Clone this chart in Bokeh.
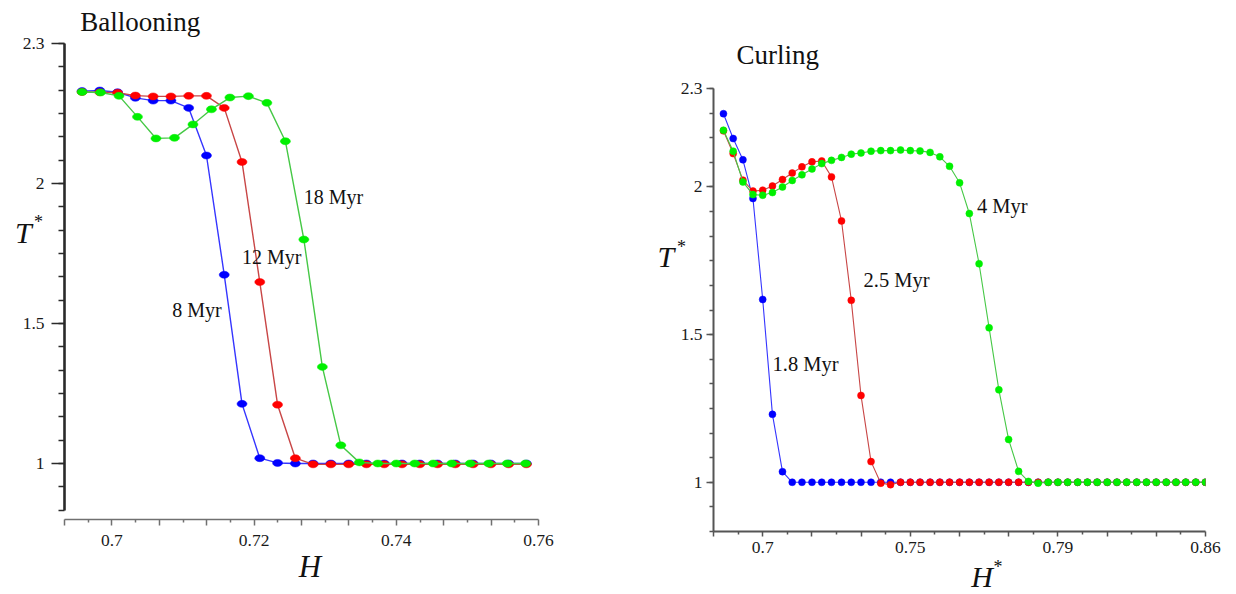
from bokeh.plotting import figure
from bokeh.layouts import row
from bokeh.models import Range1d, FixedTicker, CustomJSTickFormatter, Label
from bokeh.embed import file_html
from bokeh.resources import INLINE

# ---------------- Ballooning (left panel) ----------------
ball_H_8_12 = [0.6958, 0.6983, 0.7008, 0.7033, 0.7058, 0.7083, 0.7108, 0.7133, 0.7158, 0.7183,
               0.7208, 0.7233, 0.7258, 0.7283, 0.7308, 0.7333, 0.7358, 0.7383, 0.7408, 0.7433,
               0.7458, 0.7483, 0.7508, 0.7533, 0.7558, 0.7583]
ball_T_8 = [2.330, 2.332, 2.326, 2.306, 2.296, 2.296, 2.270, 2.100, 1.674, 1.213,
            1.019, 1.002, 1.000, 1.000, 1.000, 1.000, 1.000, 1.000, 1.000, 1.000,
            1.000, 1.000, 1.000, 1.000, 1.000, 1.000]
ball_T_12 = [2.327, 2.326, 2.324, 2.314, 2.311, 2.311, 2.313, 2.313, 2.270, 2.077,
             1.648, 1.210, 1.019, 0.997, 0.997, 0.997, 0.997, 0.997, 0.997, 0.997,
             0.997, 0.997, 0.997, 0.997, 0.997, 0.997]
ball_H_18 = [0.6958, 0.6984, 0.7010, 0.7036, 0.7062, 0.7088, 0.7114, 0.7140, 0.7166, 0.7192,
             0.7218, 0.7244, 0.7270, 0.7296, 0.7322, 0.7348, 0.7374, 0.7400, 0.7426, 0.7452,
             0.7478, 0.7504, 0.7530, 0.7556, 0.7582]
ball_T_18 = [2.327, 2.325, 2.313, 2.238, 2.161, 2.163, 2.211, 2.265, 2.307, 2.312,
             2.288, 2.151, 1.800, 1.345, 1.065, 1.004, 1.000, 1.000, 1.000, 1.000,
             1.000, 1.000, 1.000, 1.000, 1.000]
ball_series_labels = ["8 Myr", "12 Myr", "18 Myr"]
ball_xtick_values = [0.70, 0.72, 0.74, 0.76]
ball_xtick_labels = ["0.7", "0.72", "0.74", "0.76"]
ball_ytick_values = [1.0, 1.5, 2.0, 2.5]
ball_ytick_labels = ["1", "1.5", "2", "2.3"]

# ---------------- Curling (right panel) ----------------
curl_H = [0.6867, 0.6900, 0.6933, 0.6967, 0.7000, 0.7033, 0.7067, 0.7100, 0.7133, 0.7167,
          0.7200, 0.7233, 0.7267, 0.7300, 0.7333, 0.7367, 0.7400, 0.7433, 0.7467, 0.7500,
          0.7533, 0.7567, 0.7600, 0.7633, 0.7667, 0.7700, 0.7733, 0.7767, 0.7800, 0.7833,
          0.7867, 0.7900, 0.7933, 0.7967, 0.8000, 0.8033, 0.8067, 0.8100, 0.8133, 0.8167,
          0.8200, 0.8233, 0.8267, 0.8300, 0.8333, 0.8367, 0.8400, 0.8433, 0.8467, 0.8500]
curl_T_18 = [2.248, 2.164, 2.092, 1.961, 1.619, 1.230, 1.036, 1.000, 1.000, 1.000,
             1.000, 1.000, 1.000, 1.000, 1.000, 1.000, 1.000, 1.000, 1.000, 1.000,
             1.000, 1.000, 1.000, 1.000, 1.000, 1.000, 1.000, 1.000, 1.000, 1.000,
             1.000, 1.000, 1.000, 1.000, 1.000, 1.000, 1.000, 1.000, 1.000, 1.000,
             1.000, 1.000, 1.000, 1.000, 1.000, 1.000, 1.000, 1.000, 1.000, 1.000]
curl_T_25 = [2.190, 2.113, 2.023, 1.986, 1.989, 2.003, 2.025, 2.047, 2.068, 2.085,
             2.088, 2.034, 1.885, 1.616, 1.294, 1.070, 0.997, 0.992, 1.000, 1.000,
             1.000, 1.000, 1.000, 1.000, 1.000, 1.000, 1.000, 1.000, 1.000, 1.000,
             1.000, 1.000, 1.000, 1.000, 1.000, 1.000, 1.000, 1.000, 1.000, 1.000,
             1.000, 1.000, 1.000, 1.000, 1.000, 1.000, 1.000, 1.000, 1.000, 1.000]
curl_T_40 = [2.192, 2.121, 2.017, 1.974, 1.972, 1.981, 2.000, 2.022, 2.041, 2.061,
             2.079, 2.090, 2.100, 2.111, 2.115, 2.121, 2.123, 2.123, 2.125, 2.123,
             2.122, 2.117, 2.102, 2.070, 2.014, 1.910, 1.740, 1.523, 1.313, 1.145,
             1.037, 1.003, 0.997, 1.000, 1.000, 1.000, 1.000, 1.000, 1.000, 1.000,
             1.000, 1.000, 1.000, 1.000, 1.000, 1.000, 1.000, 1.000, 1.000, 1.000]
curl_series_labels = ["1.8 Myr", "2.5 Myr", "4 Myr"]
curl_xtick_values = [0.70, 0.75, 0.80, 0.85]
curl_xtick_labels = ["0.7", "0.75", "0.79", "0.86"]
curl_ytick_values = [1.0, 1.5, 2.0, 7.0 / 3.0]
curl_ytick_labels = ["1", "1.5", "2", "2.3"]

SERIF = "Liberation Serif"
BLUE, RED, GREEN = "#0000ff", "#ff0000", "#00f000"
BLUE_L, RED_L, GREEN_L = "#3535ff", "#c84646", "#46c846"


def fmt(vals, labs):
    return CustomJSTickFormatter(args=dict(vals=vals, labs=labs), code="""
        for (let i = 0; i < vals.length; i++) {
            if (Math.abs(tick - vals[i]) < 1e-6) { return labs[i]; }
        }
        return "";
    """)


def style_axis(ax, line_color, line_width, maj_out, min_out, standoff):
    ax.axis_line_color = line_color
    ax.axis_line_width = line_width
    ax.major_tick_line_color = line_color
    ax.minor_tick_line_color = line_color
    ax.major_tick_line_width = 1.5
    ax.minor_tick_line_width = 1.5
    ax.major_tick_in = 0
    ax.minor_tick_in = 0
    ax.major_tick_out = maj_out
    ax.minor_tick_out = min_out
    ax.major_label_text_font = SERIF
    ax.major_label_text_font_size = "17.5px"
    ax.major_label_text_color = "#1a1a1a"
    ax.major_label_standoff = standoff


def add_text(p, x, y, text, size, italic=False, baseline="middle", side=None):
    lab = Label(x=x, y=y, text=text, text_font=SERIF, text_font_size=size,
                text_font_style="italic" if italic else "normal",
                text_color="#111111", text_align="left", text_baseline=baseline,
                level="overlay")
    if side is None:
        p.add_layout(lab)
    else:
        # parked in a side panel so that it is not clipped to the frame
        p.add_layout(lab, side)


def base_fig(**kw):
    p = figure(output_backend="svg", toolbar_location=None, **kw)
    p.frame_align = False
    p.xgrid.visible = False
    p.ygrid.visible = False
    p.outline_line_color = None
    p.background_fill_color = "white"
    p.border_fill_color = "white"
    return p


# ---------- left figure ----------
step_l = 0.02 / 3
x0_l = 0.70 - step_l
p1 = base_fig(frame_width=474, frame_height=476, min_border_left=64, min_border_right=102,
              min_border_top=43, min_border_bottom=75,
              x_range=Range1d(x0_l, 0.76), y_range=Range1d(0.80, 2.5))

xmaj = [x0_l + k * step_l for k in range(11)]
xmin = [x0_l + (k + 0.5) * step_l for k in range(10)]
p1.xaxis.ticker = FixedTicker(ticks=xmaj, minor_ticks=xmin)
p1.xaxis.formatter = fmt(ball_xtick_values, ball_xtick_labels)
style_axis(p1.xaxis[0], "#707070", 1.6, 6, 3, 9)

ymin_l = [10.0 / 12 + k / 12 for k in range(21)]
p1.yaxis.ticker = FixedTicker(ticks=ball_ytick_values, minor_ticks=ymin_l)
p1.yaxis.formatter = fmt(ball_ytick_values, ball_ytick_labels)
p1.yaxis.bounds = (10.0 / 12, 2.5)
style_axis(p1.yaxis[0], "#2a2a2a", 2.6, 13, 6, 7)

for xs, ys, mc, lc in [(ball_H_8_12, ball_T_8, BLUE, BLUE_L),
                       (ball_H_8_12, ball_T_12, RED, RED_L),
                       (ball_H_18, ball_T_18, GREEN, GREEN_L)]:
    p1.line(xs, ys, line_color=lc, line_width=1.4)
    p1.ellipse(x=xs, y=ys, width=10, height=7, width_units="screen", height_units="screen",
               fill_color=mc, line_color=mc, line_width=0.5)

add_text(p1, 0.70849, 1.5475, ball_series_labels[0], "20px")
add_text(p1, 0.71831, 1.7379, ball_series_labels[1], "20px")
add_text(p1, 0.72699, 1.9510, ball_series_labels[2], "20px")
add_text(p1, 0.69555, 2.577, "Ballooning", "27px", baseline="alphabetic", side="above")
add_text(p1, 0.68638, 1.825, "T", "30px", italic=True, baseline="alphabetic", side="right")
add_text(p1, 0.68906, 1.862, "*", "18px", baseline="alphabetic", side="right")
add_text(p1, 0.72628, 0.631, "H", "31px", italic=True, baseline="alphabetic", side="right")

# ---------- right figure ----------
step_r = 1.0 / 60
x0_r = 0.70 - step_r
p2 = base_fig(frame_width=492, frame_height=443, min_border_left=73, min_border_right=31,
              min_border_top=88, min_border_bottom=63,
              x_range=Range1d(x0_r, 0.85), y_range=Range1d(10.0 / 12, 7.0 / 3.0))

xmaj_r = [x0_r + k * step_r for k in range(11)]
xmin_r = [x0_r + (k + 0.5) * step_r for k in range(10)]
p2.xaxis.ticker = FixedTicker(ticks=xmaj_r, minor_ticks=xmin_r)
p2.xaxis.formatter = fmt(curl_xtick_values, curl_xtick_labels)
style_axis(p2.xaxis[0], "#555555", 2.0, 5, 3, 5)

ymin_r = [10.0 / 12 + k / 12 for k in range(19)]
p2.yaxis.ticker = FixedTicker(ticks=curl_ytick_values, minor_ticks=ymin_r)
p2.yaxis.formatter = fmt(curl_ytick_values, curl_ytick_labels)
style_axis(p2.yaxis[0], "#555555", 2.0, 7, 4, 4)

for ys, mc, lc in [(curl_T_18, BLUE, BLUE_L), (curl_T_25, RED, RED_L), (curl_T_40, GREEN, GREEN_L)]:
    p2.line(curl_H, ys, line_color=lc, line_width=1.1)
    p2.scatter(curl_H, ys, marker="circle", size=7, fill_color=mc, line_color=mc, line_width=0.5)

add_text(p2, 0.70335, 1.4014, curl_series_labels[0], "20.5px")
add_text(p2, 0.73418, 1.6861, curl_series_labels[1], "20.5px")
add_text(p2, 0.77256, 1.9346, curl_series_labels[2], "20.5px")
add_text(p2, 0.69116, 2.446, "Curling", "27px", baseline="alphabetic", side="above")
add_text(p2, 0.66439, 1.763, "T", "30px", italic=True, baseline="alphabetic", side="left")
add_text(p2, 0.67100, 1.795, "*", "18px", baseline="alphabetic", side="above")
add_text(p2, 0.77066, 0.680, "H", "30px", italic=True, baseline="alphabetic", side="right")
add_text(p2, 0.77820, 0.712, "*", "18px", baseline="alphabetic", side="above")

layout = row(p1, p2)
open("out.html", "w").write(file_html(layout, INLINE))
